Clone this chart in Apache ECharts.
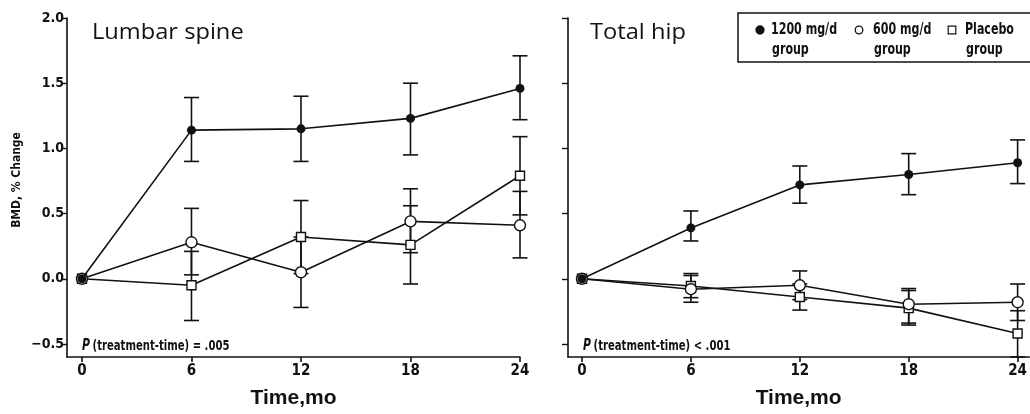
<!DOCTYPE html>
<html>
<head>
<meta charset="utf-8">
<script src="https://cdn.jsdelivr.net/npm/echarts@6/dist/echarts.min.js"></script>
<style>
html,body{margin:0;padding:0;background:#fff;}
#c{width:1030px;height:414px;}
</style>
</head>
<body>
<div id="c"></div>
<script>
// ---- data ----
var months = [0, 6, 12, 18, 24];
var xTicks = [0, 6, 12, 18, 24];
var yTicks = [-0.5, 0, 0.5, 1.0, 1.5, 2.0];
var panelTitles = ['Lumbar spine', 'Total hip'];
var pTexts = ['(treatment-time) = .005', '(treatment-time) < .001'];
var groupNames = ['1200 mg/d', '600 mg/d', 'Placebo'];

// Lumbar spine
var spine1200   = [0, 1.14, 1.15, 1.23, 1.46];
var spine1200Lo = [null, 0.90, 0.90, 0.95, 1.22];
var spine1200Hi = [null, 1.39, 1.40, 1.50, 1.71];
var spine600    = [0, 0.28, 0.05, 0.44, 0.41];
var spine600Lo  = [null, 0.03, -0.22, 0.20, 0.16];
var spine600Hi  = [null, 0.54, 0.32, 0.69, 0.67];
var spinePla    = [0, -0.05, 0.32, 0.26, 0.79];
var spinePlaLo  = [null, -0.32, 0.04, -0.04, 0.49];
var spinePlaHi  = [null, 0.21, 0.60, 0.56, 1.09];

// Total hip
var hip1200   = [0, 0.39, 0.72, 0.80, 0.89];
var hip1200Lo = [null, 0.29, 0.58, 0.645, 0.73];
var hip1200Hi = [null, 0.52, 0.865, 0.96, 1.065];
var hip600    = [0, -0.08, -0.05, -0.195, -0.18];
var hip600Lo  = [null, -0.18, -0.16, -0.34, -0.32];
var hip600Hi  = [null, 0.04, 0.06, -0.075, -0.04];
var hipPla    = [0, -0.055, -0.14, -0.225, -0.42];
var hipPlaLo  = [null, -0.145, -0.24, -0.355, -0.60];
var hipPlaHi  = [null, 0.025, -0.04, -0.09, -0.245];

// ---- styling ----
var COND = '"Liberation Sans Narrow", "Arial Narrow", "DejaVu Sans Condensed", sans-serif';
var INK = '#111';

function pts(vals){ return months.map(function(m,i){ return [m, vals[i]]; }); }
function errs(lo, hi){
  var out = [];
  months.forEach(function(m,i){ if(lo[i] != null) out.push([m, lo[i], hi[i]]); });
  return out;
}
function errRender(params, api){
  var x = api.value(0);
  var a = api.coord([x, api.value(1)]);
  var b = api.coord([x, api.value(2)]);
  var w = 7.5;
  var st = {stroke: INK, lineWidth: 1.6};
  return {type:'group', children:[
    {type:'line', shape:{x1:a[0], y1:a[1], x2:b[0], y2:b[1]}, style:st},
    {type:'line', shape:{x1:a[0]-w, y1:a[1], x2:a[0]+w, y2:a[1]}, style:st},
    {type:'line', shape:{x1:b[0]-w, y1:b[1], x2:b[0]+w, y2:b[1]}, style:st}
  ]};
}
var markerDefs = [
  {symbol:'circle', size:9, fill:INK},
  {symbol:'circle', size:11, fill:'#fff'},
  {symbol:'rect', size:9, fill:'#fff'}
];

var panels = [
  {vals:[spine1200, spine600, spinePla], lo:[spine1200Lo, spine600Lo, spinePlaLo], hi:[spine1200Hi, spine600Hi, spinePlaHi]},
  {vals:[hip1200, hip600, hipPla], lo:[hip1200Lo, hip600Lo, hipPlaLo], hi:[hip1200Hi, hip600Hi, hipPlaHi]}
];

var series = [];
panels.forEach(function(p, pi){
  for (var g = 0; g < 3; g++){
    series.push({
      type:'custom', xAxisIndex:pi, yAxisIndex:pi, z:2, silent:true,
      renderItem: errRender, data: errs(p.lo[g], p.hi[g]),
      encode:{x:0, y:[1,2]}, clip:false
    });
  }
  for (var g2 = 2; g2 >= 0; g2--){
    var md = markerDefs[g2];
    series.push({
      type:'line', xAxisIndex:pi, yAxisIndex:pi, z:3 + (2-g2), data: pts(p.vals[g2]),
      symbol: md.symbol, symbolSize: md.size, showSymbol:true,
      lineStyle:{color:INK, width:1.6},
      itemStyle:{color: md.fill, borderColor: INK, borderWidth: g2 === 0 ? 0 : 1.4, opacity:1},
      emphasis:{disabled:true}
    });
  }
});

function xAxisDef(grid, min, max){
  return {
    type:'value', gridIndex:grid, min:min, max:max,
    name:'Time,mo', nameLocation:'middle', nameGap:31,
    nameTextStyle:{fontFamily:'"Liberation Sans", Arial, sans-serif', fontWeight:'bold', fontSize:21, color:INK},
    axisLine:{onZero:false, lineStyle:{color:INK, width:1.6}},
    axisTick:{customValues:xTicks, length:5, lineStyle:{color:INK, width:1.6}},
    axisLabel:{customValues:xTicks, margin:7, fontFamily:COND, fontWeight:'bold', fontSize:15, color:INK},
    splitLine:{show:false}
  };
}
function yAxisDef(grid, labels){
  return {
    type:'value', gridIndex:grid, min:-0.6, max:2.0,
    axisLine:{onZero:false, lineStyle:{color:INK, width:1.6}},
    axisTick:{customValues:yTicks, length:6, lineStyle:{color:INK, width:1.4}},
    axisLabel:{show:labels, customValues:yTicks, margin:3, fontFamily:COND, fontWeight:'bold', fontSize:14, color:INK,
      formatter:function(v){ var s = Math.abs(v).toFixed(1); return v < 0 ? '\u2212' + s : s; }},
    splitLine:{show:false}
  };
}

// legend drawn as a boxed key
var legX = 738, legY = 13;
var legItems = [];
var legCols = [{sx:760, tx:771}, {sx:859, tx:873}, {sx:952, tx:965}];
var SX = 0.82;
legItems.push({type:'rect', shape:{x:legX, y:legY, width:300, height:49}, style:{fill:'#fff', stroke:INK, lineWidth:1.5}, z:10});
groupNames.forEach(function(name, i){
  var c = legCols[i], md = markerDefs[i];
  if (md.symbol === 'circle'){
    legItems.push({type:'circle', shape:{cx:c.sx, cy:30, r: i===0 ? 4 : 3.8}, style:{fill: i===0 ? INK : '#fff', stroke:INK, lineWidth:1.3}, z:11});
  } else {
    legItems.push({type:'rect', shape:{x:c.sx-3.8, y:26.2, width:7.6, height:7.6}, style:{fill:'#fff', stroke:INK, lineWidth:1.2}, z:11});
  }
  legItems.push({type:'text', x:c.tx, y:30, scaleX:SX, style:{text:name, fontFamily:COND, fontWeight:'bold', fontSize:15, fill:INK, textVerticalAlign:'middle'}, z:11});
  legItems.push({type:'text', x:c.tx+1, y:50, scaleX:SX, style:{text:'group', fontFamily:COND, fontWeight:'bold', fontSize:15, fill:INK, textVerticalAlign:'middle'}, z:11});
});

var pRich = {i:{fontFamily:COND, fontWeight:'bold', fontStyle:'italic', fontSize:15, fill:INK}, t:{fontFamily:COND, fontWeight:'bold', fontSize:14, fill:INK}};
var titleStyle = {fontFamily:'"Open Sans", "Noto Sans", sans-serif', fontWeight:'normal', fontSize:21.5, fill:'#111', textVerticalAlign:'middle'};

var option = {
  animation:false,
  backgroundColor:'#fff',
  grid:[
    {left:67, top:18, width:453, height:346},
    {left:568, top:18, width:463, height:346}
  ],
  xAxis:[xAxisDef(0, -0.82, 24), xAxisDef(1, -0.77, 24.64)],
  yAxis:[yAxisDef(0, true), yAxisDef(1, false)],
  series: series,
  graphic:[
    {type:'text', x:92, y:33, scaleX:1.1, style:Object.assign({text:panelTitles[0]}, titleStyle)},
    {type:'text', x:590, y:33, scaleX:1.1, style:Object.assign({text:panelTitles[1]}, titleStyle)},
    {type:'text', x:17, y:180, rotation:Math.PI/2, scaleX:0.92, style:{text:'BMD, % Change', fontFamily:COND, fontWeight:'bold', fontSize:13, fill:INK, textAlign:'center', textVerticalAlign:'middle'}},
    {type:'text', x:82, y:346, scaleX:0.8, style:{text:'{i|P} {t|' + pTexts[0] + '}', rich:pRich, textVerticalAlign:'middle'}},
    {type:'text', x:583, y:346, scaleX:0.8, style:{text:'{i|P} {t|' + pTexts[1] + '}', rich:pRich, textVerticalAlign:'middle'}},
    {type:'group', children:legItems}
  ]
};
var chart = echarts.init(document.getElementById('c'), null, {renderer:'canvas'});
chart.setOption(option);
</script>
</body>
</html>
